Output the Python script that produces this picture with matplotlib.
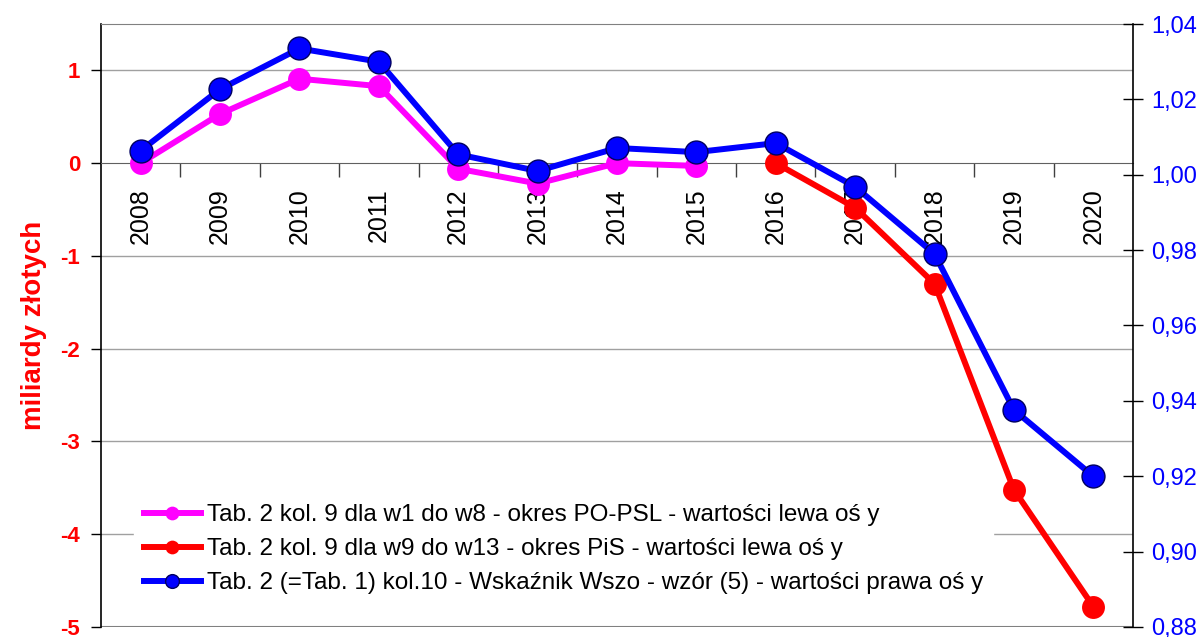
import numpy as np
import matplotlib
matplotlib.use("Agg")
import matplotlib.pyplot as plt
from matplotlib.ticker import FixedLocator, FuncFormatter

plt.rcParams['font.family'] = ['Liberation Sans', 'DejaVu Sans']
plt.rcParams['axes.unicode_minus'] = False

years = ['2008', '2009', '2010', '2011', '2012', '2013', '2014',
         '2015', '2016', '2017', '2018', '2019', '2020']
# lewa os - miliardy zlotych
po_psl = [0.00, 0.53, 0.91, 0.83, -0.06, -0.22, 0.00, -0.03]
pis = [0.00, -0.48, -1.30, -3.52, -4.78]
# prawa os - wskaznik Wszo
wszo = [1.0064, 1.0227, 1.0335, 1.0300, 1.0054, 1.0010, 1.0071,
        1.0060, 1.0084, 0.9968, 0.9790, 0.9376, 0.9200]

lab_po = 'Tab. 2 kol. 9 dla w1 do w8 - okres PO-PSL - wartości lewa oś y'
lab_pis = 'Tab. 2 kol. 9 dla w9 do w13 - okres PiS - wartości lewa oś y'
lab_w = 'Tab. 2 (=Tab. 1) kol.10 - Wskaźnik Wszo - wzór (5) - wartości prawa oś y'

x = np.arange(len(years)) + 0.5

fig = plt.figure(figsize=(12.04, 6.37), dpi=100)
ax = fig.add_axes([101/1204, 10/637, 1032/1204, 603/637])
ax.set_xlim(0, len(years))
ax.set_ylim(-5, 1.5)

# siatka
for v in [1, -1, -2, -3, -4]:
    ax.axhline(v, color='#a0a0a0', lw=1, zorder=0)
ax.axhline(-5, color='#808080', lw=1.5, zorder=0)

ax.spines['bottom'].set_position(('data', 0))
ax.spines['bottom'].set_color('#606060')
ax.spines['top'].set_color('#808080')
ax.spines['right'].set_visible(False)
ax.spines['left'].set_linewidth(1.2)

ax.set_yticks([1, 0, -1, -2, -3, -4, -5])
ax.tick_params(axis='y', colors='black', labelcolor='red', labelsize=16,
               length=7, width=1, direction='out', pad=8)
for t in ax.get_yticklabels():
    t.set_fontweight('bold')

ax.xaxis.set_major_locator(FixedLocator(np.arange(1, len(years))))
ax.xaxis.set_major_formatter(FuncFormatter(lambda v, p: ''))
ax.xaxis.set_minor_locator(FixedLocator(x))
ax.xaxis.set_minor_formatter(FuncFormatter(lambda v, p: years[int(v)]))
ax.tick_params(axis='x', which='major', length=10, width=1, direction='out', color='#404040')
ax.tick_params(axis='x', which='minor', length=0, pad=18, labelsize=18, labelrotation=90)

ax.set_ylabel('miliardy złotych', color='red', fontsize=20, fontweight='bold', labelpad=10)

l1, = ax.plot(x[:len(po_psl)], po_psl, color='#ff00ff', lw=4.3, marker='o',
              markersize=16.5, markeredgewidth=0, label=lab_po, zorder=3)
l2, = ax.plot(x[len(po_psl):], pis, color='#ff0000', lw=4.3, marker='o',
              markersize=16.5, markeredgewidth=0, label=lab_pis, zorder=3)

ax2 = ax.twinx()
ax2.set_ylim(0.88, 1.04)
ax2.set_yticks(np.arange(0.88, 1.0401, 0.02))
ax2.yaxis.set_major_formatter(FuncFormatter(lambda v, p: f'{v:.2f}'.replace('.', ',')))
ax2.tick_params(axis='y', labelcolor='blue', labelsize=17, length=14, width=1,
                direction='inout', pad=6)
for s in ['top', 'bottom', 'left']:
    ax2.spines[s].set_visible(False)
ax2.spines['right'].set_linewidth(1.2)

l3, = ax2.plot(x, wszo, color='#0000ff', lw=4.3, marker='o', markersize=16.5,
               markeredgecolor='#000060', markeredgewidth=1, label=lab_w, zorder=4)

leg = ax2.legend(handles=[l1, l2, l3], loc='lower left',
                 bbox_to_anchor=(0.032, 0.038), fontsize=17.5, markerscale=0.6,
                 handlelength=2.35, handletextpad=0.25, labelspacing=0.5,
                 frameon=True, borderpad=0.4, borderaxespad=0)
leg.get_frame().set_edgecolor('white')
leg.get_frame().set_facecolor('white')
leg.get_frame().set_alpha(1)

fig.savefig('out.png', dpi=100)
